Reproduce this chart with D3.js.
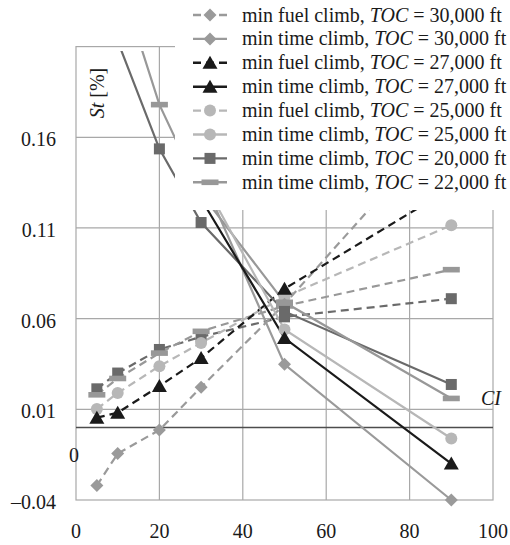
<!DOCTYPE html>
<html><head><meta charset="utf-8">
<script src="https://cdn.jsdelivr.net/npm/d3@7/dist/d3.min.js"></script>
<style>
body{margin:0;background:#fff;}
</style></head><body>
<svg id="c" width="510" height="545"></svg>
<script>
// ---- data ----
const ciValues = [5, 10, 20, 30, 50, 90];
const xTicks = [0, 20, 40, 60, 80, 100];
const yTicks = [-0.04, 0.01, 0.06, 0.11, 0.16];
const yTickLabels = ["\u20130.04", "0.01", "0.06", "0.11", "0.16"];

const minFuel30 = [-0.032, -0.0144, -0.0014, 0.0222, 0.068, 0.171];
const minTime30 = [null, null, null, 0.139, 0.0348, -0.040];
const minFuel27 = [0.0054, 0.0081, 0.0228, 0.0383, 0.0765, 0.132];
const minTime27 = [null, null, null, 0.126, 0.0493, -0.0199];
const minFuel25 = [0.0102, 0.019, 0.0338, 0.0466, 0.072, 0.1115];
const minTime25 = [null, null, null, 0.138, 0.054, -0.0061];
const minFuel20 = [0.0213, 0.030, 0.043, 0.050, 0.061, 0.071];
const minTime20 = [null, 0.213, 0.1536, 0.113, 0.064, 0.0237];
const minFuel22 = [0.018, 0.027, 0.041, 0.053, 0.067, 0.087];
const minTime22 = [null, 0.25, 0.178, 0.129, 0.069, 0.016];

const seriesNames = [
  "min fuel climb|30,000", "min time climb|30,000",
  "min fuel climb|27,000", "min time climb|27,000",
  "min fuel climb|25,000", "min time climb|25,000",
  "min time climb|20,000", "min time climb|22,000"
];

// style table built from the arrays
const C30 = "#9a9a9a", C27 = "#1a1a1a", C25 = "#b7b7b7", C20 = "#6a6a6a", C22 = "#989898";
const series = [
  {vals: minFuel20, color: C20, dash: true, marker: "square"},
  {vals: minFuel22, color: C22, dash: true, marker: "bar"},
  {vals: minFuel25, color: C25, dash: true, marker: "circle"},
  {vals: minFuel30, color: C30, dash: true, marker: "diamond"},
  {vals: minFuel27, color: C27, dash: true, marker: "triangle"},
  {vals: minTime20, color: C20, dash: false, marker: "square"},
  {vals: minTime22, color: C22, dash: false, marker: "bar"},
  {vals: minTime30, color: C30, dash: false, marker: "diamond"},
  {vals: minTime25, color: C25, dash: false, marker: "circle"},
  {vals: minTime27, color: C27, dash: false, marker: "triangle"}
];
const legendItems = [
  {name: seriesNames[0], color: C30, dash: true, marker: "diamond"},
  {name: seriesNames[1], color: C30, dash: false, marker: "diamond"},
  {name: seriesNames[2], color: C27, dash: true, marker: "triangle"},
  {name: seriesNames[3], color: C27, dash: false, marker: "triangle"},
  {name: seriesNames[4], color: C25, dash: true, marker: "circle"},
  {name: seriesNames[5], color: C25, dash: false, marker: "circle"},
  {name: seriesNames[6], color: C20, dash: false, marker: "square"},
  {name: seriesNames[7], color: C22, dash: false, marker: "bar"}
];

const FONT = "Liberation Serif";
const TXT = "#1a1a1a";
const svg = d3.select("#c");
const L = 76, R = 493, T = 46.6, B = 500;
const x = d3.scaleLinear().domain([0, 100]).range([L, R]);
const y = d3.scaleLinear().domain([-0.04, 0.21]).range([B, T]);
const GRID = "#a8a8a8";

// gridlines
svg.append("g").selectAll("line").data(yTicks.filter(d => d > -0.04)).join("line")
  .attr("x1", L).attr("x2", R).attr("y1", d => y(d)).attr("y2", d => y(d))
  .attr("stroke", GRID).attr("stroke-width", 1.2);
svg.append("g").selectAll("line").data(xTicks.filter(d => d > 0 && d < 100)).join("line")
  .attr("x1", d => x(d)).attr("x2", d => x(d)).attr("y1", T).attr("y2", B)
  .attr("stroke", GRID).attr("stroke-width", 1.2);
// frame
svg.append("rect").attr("x", L).attr("y", T).attr("width", R - L).attr("height", B - T)
  .attr("fill", "none").attr("stroke", GRID).attr("stroke-width", 1.2);
// zero line
svg.append("line").attr("x1", L).attr("x2", R).attr("y1", y(0)).attr("y2", y(0))
  .attr("stroke", "#4d4d4d").attr("stroke-width", 1.6);

// clip
svg.append("clipPath").attr("id", "clip").append("rect")
  .attr("x", 0).attr("y", 51).attr("width", 510).attr("height", 494);

function drawMarker(g, type, cx, cy, color) {
  if (type === "square") {
    g.append("rect").attr("x", cx - 5.5).attr("y", cy - 5.5).attr("width", 11).attr("height", 11).attr("fill", color);
  } else if (type === "diamond") {
    g.append("path").attr("d", `M${cx},${cy-6.5}L${cx+6.5},${cy}L${cx},${cy+6.5}L${cx-6.5},${cy}Z`).attr("fill", color);
  } else if (type === "triangle") {
    g.append("path").attr("d", `M${cx},${cy-7}L${cx+7.5},${cy+6}L${cx-7.5},${cy+6}Z`).attr("fill", color);
  } else if (type === "circle") {
    g.append("circle").attr("cx", cx).attr("cy", cy).attr("r", 6).attr("fill", color);
  } else if (type === "bar") {
    g.append("rect").attr("x", cx - 8.5).attr("y", cy - 2.8).attr("width", 17).attr("height", 5.6).attr("fill", color);
  }
}

const plot = svg.append("g").attr("clip-path", "url(#clip)");
const line = d3.line().defined(d => d[1] !== null).x(d => x(d[0])).y(d => y(d[1]));
series.forEach(s => {
  const pts = ciValues.map((c, i) => [c, s.vals[i]]);
  plot.append("path").datum(pts).attr("d", line).attr("fill", "none")
    .attr("stroke", s.color).attr("stroke-width", 2.2)
    .attr("stroke-dasharray", s.dash ? "8,5" : null);
});
series.forEach(s => {
  ciValues.forEach((c, i) => {
    if (s.vals[i] !== null) drawMarker(plot, s.marker, x(c), y(s.vals[i]), s.color);
  });
});

// legend (white box covering the plot)
svg.append("rect").attr("x", 175).attr("y", 0).attr("width", 335).attr("height", 210).attr("fill", "#fff");
const lg = svg.append("g");
legendItems.forEach((it, i) => {
  const cy = 15 + i * 23.9;
  lg.append("line").attr("x1", 193).attr("x2", 227).attr("y1", cy).attr("y2", cy)
    .attr("stroke", it.color).attr("stroke-width", 2.4)
    .attr("stroke-dasharray", it.dash ? "8,5" : null);
  drawMarker(lg, it.marker, 210, cy, it.color);
  const parts = it.name.split("|");
  const t = lg.append("text").attr("x", 242).attr("y", cy + 6.5).attr("font-size", 20)
    .attr("font-family", FONT).attr("fill", TXT);
  t.append("tspan").text(parts[0] + ", ");
  t.append("tspan").attr("font-style", "italic").text("TOC");
  t.append("tspan").text(" = " + parts[1] + " ft");
});

// tick labels
svg.append("g").selectAll("text").data(yTicks).join("text")
  .attr("x", 56).attr("y", d => y(d) + 9).attr("text-anchor", "end").attr("font-size", 20)
  .attr("font-family", FONT).attr("fill", TXT)
  .text((d, i) => yTickLabels[i]);
svg.append("g").selectAll("text").data(xTicks).join("text")
  .attr("x", d => x(d)).attr("y", 538).attr("text-anchor", "middle").attr("font-size", 20)
  .attr("font-family", FONT).attr("fill", TXT)
  .text(d => d);
// stray "0" label
svg.append("text").attr("x", 74).attr("y", 462).attr("text-anchor", "middle").attr("font-size", 20)
  .attr("font-family", FONT).attr("fill", TXT).text("0");

// axis title
const at = svg.append("text").attr("transform", "translate(104,93) rotate(-90)")
  .attr("text-anchor", "middle").attr("font-size", 20).attr("font-family", FONT).attr("fill", TXT);
at.append("tspan").attr("font-style", "italic").text("St");
at.append("tspan").text(" [%]");

// CI label
svg.append("text").attr("x", 481).attr("y", 405).attr("font-size", 20).attr("font-style", "italic")
  .attr("font-family", FONT).attr("fill", TXT).text("CI");
</script>
</body></html>
